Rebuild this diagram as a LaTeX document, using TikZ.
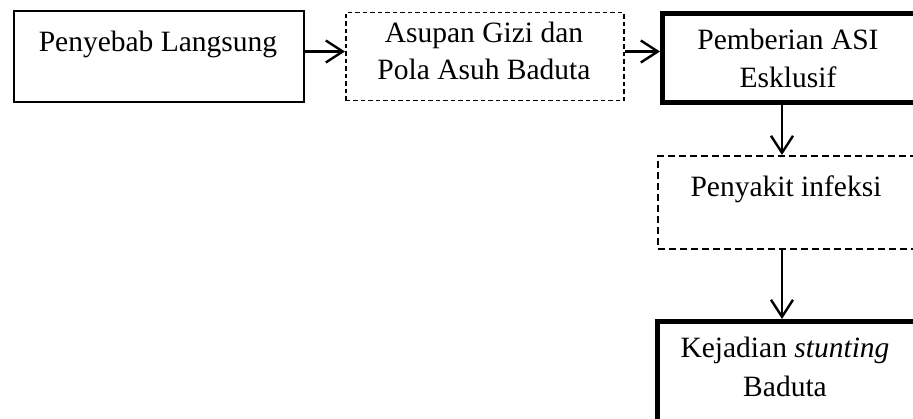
\documentclass[tikz,border=0pt]{standalone}
\usepackage{fontspec}
\setmainfont{Liberation Serif}
\usetikzlibrary{arrows.meta}
\begin{document}
\begin{tikzpicture}[x=1pt,y=-1pt,
  boxthin/.style={draw,line width=1.7pt,rectangle,inner sep=0pt,anchor=north west},
  boxdashA/.style={draw,line width=1.5pt,dash pattern=on 4.5pt off 3pt,rectangle,inner sep=0pt,anchor=north west},
  boxdashB/.style={draw,line width=1.8pt,dash pattern=on 7pt off 4pt,rectangle,inner sep=0pt,anchor=north west},
  boxthick/.style={draw,line width=5pt,rectangle,inner sep=0pt,anchor=north west},
  txt/.style={anchor=base,inner sep=0pt,font=\fontsize{29.5}{37}\selectfont},
  arr/.style={line width=2.2pt,-{Straight Barb[length=17pt,width=22pt,line width=2.4pt]}}]
\useasboundingbox (0,0) rectangle (913,419);
\clip (0,0) rectangle (913,419);
% boxes
\node[boxthin,minimum width=290pt,minimum height=91pt] (b1) at (13,10) {};
\node[boxdashA,minimum width=278pt,minimum height=88pt] (b2) at (345,12) {};
\node[boxthick,minimum width=258pt,minimum height=89pt] (b3) at (660,11) {};
\node[boxdashB,minimum width=259pt,minimum height=93pt] (b4) at (657,155) {};
\node[boxthick,minimum width=262pt,minimum height=101pt] (b5) at (654.5,319) {};
% texts
\node[txt] (t1) at (158,52) {Penyebab Langsung};
\node[txt] (t2a) at (484,43) {Asupan Gizi dan};
\node[txt] (t2b) at (484,80) {Pola Asuh Baduta};
\node[txt] (t3a) at (788,50) {Pemberian ASI};
\node[txt] (t3b) at (788,88) {Esklusif};
\node[txt] (t4) at (786,197) {Penyakit infeksi};
\node[txt] (t5a) at (785,358) {Kejadian \textit{stunting}};
\node[txt] (t5b) at (785,397) {Baduta};
% connectors
\coordinate (ay) at (0,51.5);
\coordinate (ax) at (782,0);
\draw[arr] (b1.east |- ay) -- (b2.west |- ay);
\draw[arr] (b2.east |- ay) -- (b3.west |- ay);
\draw[arr] (b3.south -| ax) -- (b4.north -| ax);
\draw[arr] (b4.south -| ax) -- (b5.north -| ax);
\end{tikzpicture}
\end{document}
